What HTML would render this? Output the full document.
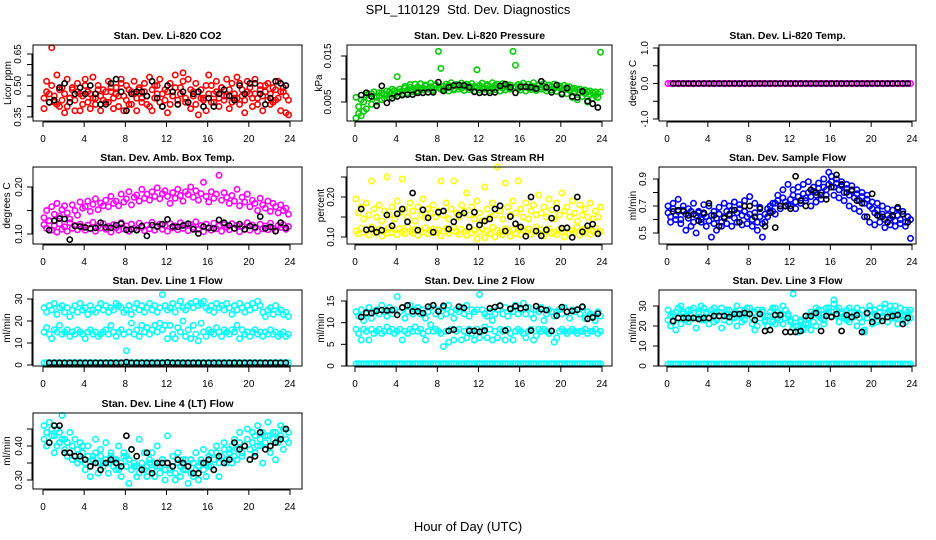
<!DOCTYPE html>
<html><head><meta charset="utf-8"><style>
html,body{margin:0;padding:0;background:#fff;}
svg{display:block;font-family:"Liberation Sans",sans-serif;}
</style></head><body>
<svg id="chart" width="936" height="540" viewBox="0 0 936 540" xmlns="http://www.w3.org/2000/svg">
<rect width="936" height="540" fill="#fff"/>
<text x="468" y="14" text-anchor="middle" font-size="13">SPL_110129&#160;&#160;Std. Dev. Diagnostics</text>
<text x="468" y="531" text-anchor="middle" font-size="13">Hour of Day (UTC)</text>
</svg>
<script>
const hours=[0.1,0.35,0.6,0.85,1.1,1.35,1.6,1.85,2.1,2.35,2.6,2.85,3.1,3.35,3.6,3.85,4.1,4.35,4.6,4.85,5.1,5.35,5.6,5.85,6.1,6.35,6.6,6.85,7.1,7.35,7.6,7.85,8.1,8.35,8.6,8.85,9.1,9.35,9.6,9.85,10.1,10.35,10.6,10.85,11.1,11.35,11.6,11.85,12.1,12.35,12.6,12.85,13.1,13.35,13.6,13.85,14.1,14.35,14.6,14.85,15.1,15.35,15.6,15.85,16.1,16.35,16.6,16.85,17.1,17.35,17.6,17.85,18.1,18.35,18.6,18.85,19.1,19.35,19.6,19.85,20.1,20.35,20.6,20.85,21.1,21.35,21.6,21.85,22.1,22.35,22.6,22.85,23.1,23.35,23.6,23.85];
const blackHours=[0.6,1.1,1.6,2.1,2.6,3.1,3.6,4.1,4.6,5.1,5.6,6.1,6.6,7.1,7.6,8.1,8.6,9.1,9.6,10.1,10.6,11.1,11.6,12.1,12.6,13.1,13.6,14.1,14.6,15.1,15.6,16.1,16.6,17.1,17.6,18.1,18.6,19.1,19.6,20.1,20.6,21.1,21.6,22.1,22.6,23.1,23.6];
const xTicks=[0,4,8,12,16,20,24];

const co2A=[0.44,0.47,0.42,0.50,0.45,0.41,0.48,0.43,0.46,0.40,0.44,0.49,0.43,0.47,0.38,0.45,0.50,0.42,0.46,0.44,0.41,0.48,0.45,0.43,0.47,0.42,0.49,0.44,0.46,0.40,0.51,0.45,0.43,0.48,0.41,0.46,0.44,0.49,0.42,0.47,0.45,0.40,0.48,0.44,0.50,0.42,0.46,0.43,0.47,0.41,0.45,0.49,0.43,0.46,0.52,0.44,0.42,0.48,0.45,0.41,0.47,0.44,0.43,0.38,0.46,0.50,0.42,0.47,0.44,0.49,0.43,0.45,0.48,0.42,0.46,0.44,0.51,0.45,0.43,0.47,0.49,0.44,0.46,0.41,0.48,0.45,0.50,0.43,0.46,0.42,0.48,0.44,0.47,0.49,0.45,0.43];
const co2B=[0.39,0.52,0.46,0.68,0.42,0.55,0.40,0.49,0.37,0.53,0.44,0.48,0.38,0.51,0.46,0.41,0.53,0.47,0.39,0.54,0.44,0.50,0.38,0.48,0.42,0.52,0.47,0.39,0.49,0.45,0.53,0.38,0.50,0.41,0.47,0.52,0.38,0.48,0.44,0.51,0.41,0.54,0.38,0.50,0.46,0.53,0.40,0.48,0.37,0.51,0.45,0.55,0.41,0.49,0.56,0.42,0.53,0.39,0.47,0.51,0.36,0.48,0.44,0.50,0.55,0.42,0.46,0.52,0.40,0.49,0.45,0.53,0.39,0.51,0.44,0.54,0.41,0.48,0.37,0.52,0.46,0.40,0.53,0.44,0.50,0.38,0.47,0.51,0.41,0.49,0.43,0.52,0.38,0.47,0.37,0.36];
const co2Black=[0.42,0.43,0.49,0.51,0.42,0.46,0.49,0.46,0.50,0.46,0.41,0.41,0.51,0.53,0.47,0.38,0.46,0.47,0.47,0.45,0.52,0.44,0.40,0.50,0.47,0.41,0.47,0.42,0.46,0.47,0.40,0.44,0.40,0.46,0.48,0.45,0.43,0.50,0.46,0.51,0.51,0.46,0.41,0.44,0.52,0.51,0.50];

const presA=[0.0060,0.0025,0.0055,0.0030,0.0065,0.0058,0.0068,0.0062,0.0060,0.0064,0.0070,0.0058,0.0066,0.0072,0.0068,0.0075,0.0070,0.0078,0.0074,0.0080,0.0076,0.0082,0.0075,0.0079,0.0083,0.0077,0.0081,0.0085,0.0079,0.0083,0.0080,0.0086,0.0081,0.0078,0.0084,0.0080,0.0086,0.0082,0.0079,0.0085,0.0083,0.0080,0.0087,0.0082,0.0085,0.0079,0.0084,0.0081,0.0086,0.0082,0.0080,0.0085,0.0083,0.0079,0.0086,0.0081,0.0084,0.0080,0.0085,0.0082,0.0087,0.0081,0.0083,0.0079,0.0086,0.0082,0.0084,0.0080,0.0085,0.0083,0.0081,0.0086,0.0082,0.0084,0.0080,0.0086,0.0083,0.0079,0.0085,0.0081,0.0080,0.0077,0.0082,0.0075,0.0079,0.0073,0.0077,0.0071,0.0074,0.0068,0.0072,0.0066,0.0070,0.0064,0.0068,0.0072];
const presB=[0.0015,0.0040,0.0020,0.0050,0.0035,0.0068,0.0045,0.0072,0.0050,0.0070,0.0055,0.0066,0.0074,0.0060,0.0078,0.0065,0.0105,0.0072,0.0068,0.0084,0.0070,0.0088,0.0072,0.0089,0.0074,0.0090,0.0076,0.0087,0.0078,0.0091,0.0075,0.0088,0.0160,0.0123,0.0077,0.0089,0.0074,0.0092,0.0076,0.0088,0.0078,0.0091,0.0075,0.0089,0.0077,0.0090,0.0074,0.0120,0.0076,0.0091,0.0078,0.0088,0.0075,0.0092,0.0077,0.0089,0.0074,0.0090,0.0076,0.0087,0.0078,0.0160,0.0130,0.0088,0.0076,0.0091,0.0074,0.0089,0.0077,0.0092,0.0075,0.0088,0.0078,0.0090,0.0074,0.0087,0.0076,0.0089,0.0073,0.0085,0.0070,0.0086,0.0068,0.0083,0.0060,0.0080,0.0055,0.0078,0.0062,0.0076,0.0050,0.0074,0.0058,0.0072,0.0060,0.0158];
const presBlack=[0.0065,0.0070,0.0062,0.0042,0.0085,0.0048,0.0058,0.0062,0.0065,0.0066,0.0066,0.0070,0.0070,0.0071,0.0071,0.0093,0.0074,0.0082,0.0086,0.0087,0.0086,0.0082,0.0072,0.0070,0.0071,0.0070,0.0071,0.0085,0.0089,0.0082,0.0070,0.0083,0.0083,0.0082,0.0079,0.0095,0.0082,0.0071,0.0087,0.0067,0.0080,0.0062,0.0060,0.0073,0.0052,0.0046,0.0038];

const tempA=[0,0,0,0,0,0,0,0,0,0,0,0,0,0,0,0,0,0,0,0,0,0,0,0,0,0,0,0,0,0,0,0,0,0,0,0,0,0,0,0,0,0,0,0,0,0,0,0,0,0,0,0,0,0,0,0,0,0,0,0,0,0,0,0,0,0,0,0,0,0,0,0,0,0,0,0,0,0,0,0,0,0,0,0,0,0,0,0,0,0,0,0,0,0,0,0];
const tempBlack=[0,0,0,0,0,0,0,0,0,0,0,0,0,0,0,0,0,0,0,0,0,0,0,0,0,0,0,0,0,0,0,0,0,0,0,0,0,0,0,0,0,0,0,0,0,0,0];

const boxA=[0.120,0.112,0.128,0.108,0.118,0.104,0.122,0.110,0.115,0.106,0.124,0.112,0.118,0.109,0.121,0.114,0.108,0.119,0.111,0.125,0.106,0.117,0.113,0.122,0.110,0.116,0.104,0.120,0.113,0.108,0.124,0.111,0.117,0.106,0.121,0.112,0.109,0.123,0.114,0.107,0.119,0.111,0.125,0.108,0.116,0.121,0.110,0.118,0.106,0.122,0.113,0.117,0.109,0.124,0.112,0.119,0.107,0.120,0.114,0.126,0.110,0.118,0.105,0.121,0.113,0.108,0.123,0.111,0.117,0.106,0.120,0.114,0.109,0.122,0.112,0.118,0.105,0.116,0.110,0.124,0.108,0.119,0.113,0.106,0.121,0.111,0.117,0.109,0.123,0.112,0.107,0.118,0.114,0.120,0.110,0.116];
const boxB=[0.135,0.150,0.128,0.158,0.142,0.165,0.138,0.152,0.160,0.145,0.132,0.162,0.150,0.140,0.168,0.155,0.158,0.170,0.148,0.163,0.175,0.152,0.166,0.160,0.172,0.158,0.180,0.165,0.170,0.160,0.185,0.168,0.175,0.190,0.162,0.178,0.183,0.170,0.195,0.176,0.185,0.172,0.190,0.180,0.198,0.175,0.186,0.192,0.180,0.165,0.188,0.176,0.195,0.182,0.170,0.190,0.184,0.200,0.178,0.192,0.172,0.186,0.210,0.180,0.168,0.190,0.176,0.185,0.225,0.172,0.188,0.178,0.165,0.182,0.170,0.195,0.160,0.178,0.168,0.185,0.158,0.172,0.165,0.150,0.176,0.162,0.155,0.170,0.148,0.165,0.158,0.145,0.162,0.150,0.155,0.142];
const boxBlack=[0.108,0.128,0.133,0.132,0.088,0.117,0.116,0.114,0.112,0.113,0.124,0.114,0.113,0.119,0.122,0.109,0.110,0.108,0.117,0.096,0.119,0.116,0.121,0.131,0.116,0.115,0.118,0.122,0.110,0.101,0.116,0.113,0.112,0.130,0.124,0.118,0.112,0.121,0.110,0.117,0.114,0.137,0.112,0.115,0.106,0.124,0.113];

const rhA=[0.115,0.108,0.122,0.112,0.118,0.105,0.125,0.110,0.113,0.120,0.102,0.116,0.109,0.124,0.111,0.118,0.106,0.121,0.113,0.108,0.126,0.114,0.110,0.119,0.104,0.117,0.112,0.123,0.108,0.115,0.120,0.111,0.118,0.103,0.114,0.121,0.109,0.116,0.125,0.112,0.107,0.119,0.113,0.104,0.122,0.110,0.117,0.095,0.112,0.120,0.098,0.115,0.108,0.124,0.100,0.117,0.111,0.106,0.121,0.113,0.102,0.118,0.109,0.123,0.105,0.116,0.112,0.120,0.107,0.114,0.125,0.110,0.118,0.103,0.115,0.121,0.109,0.112,0.106,0.119,0.113,0.100,0.122,0.108,0.116,0.111,0.124,0.105,0.118,0.112,0.120,0.107,0.115,0.123,0.110,0.114];
const rhB=[0.195,0.160,0.175,0.145,0.185,0.155,0.240,0.170,0.150,0.180,0.140,0.165,0.250,0.155,0.175,0.145,0.190,0.160,0.245,0.170,0.150,0.185,0.165,0.140,0.175,0.155,0.195,0.148,0.170,0.160,0.180,0.150,0.165,0.240,0.155,0.185,0.145,0.170,0.240,0.160,0.150,0.180,0.165,0.210,0.155,0.175,0.145,0.190,0.160,0.140,0.225,0.170,0.150,0.185,0.155,0.275,0.165,0.145,0.235,0.175,0.155,0.190,0.160,0.240,0.170,0.150,0.185,0.145,0.165,0.180,0.155,0.205,0.160,0.175,0.150,0.195,0.168,0.145,0.185,0.155,0.210,0.165,0.175,0.150,0.190,0.160,0.140,0.180,0.155,0.170,0.150,0.185,0.145,0.165,0.150,0.175];
const rhBlack=[0.170,0.118,0.120,0.112,0.117,0.155,0.128,0.158,0.170,0.138,0.210,0.117,0.168,0.148,0.112,0.162,0.165,0.120,0.138,0.155,0.160,0.125,0.162,0.130,0.140,0.145,0.170,0.178,0.115,0.151,0.133,0.125,0.102,0.200,0.115,0.103,0.118,0.147,0.172,0.122,0.123,0.099,0.200,0.113,0.128,0.132,0.108];

const sfA=[0.65,0.62,0.68,0.63,0.66,0.60,0.67,0.64,0.61,0.66,0.58,0.63,0.65,0.60,0.64,0.62,0.59,0.63,0.57,0.61,0.64,0.58,0.62,0.66,0.63,0.67,0.61,0.65,0.68,0.63,0.66,0.62,0.64,0.60,0.65,0.58,0.62,0.57,0.64,0.68,0.70,0.66,0.72,0.74,0.70,0.76,0.73,0.71,0.75,0.78,0.73,0.77,0.74,0.79,0.76,0.80,0.77,0.81,0.78,0.83,0.80,0.84,0.82,0.86,0.88,0.84,0.87,0.82,0.85,0.80,0.83,0.78,0.81,0.76,0.79,0.74,0.77,0.72,0.75,0.70,0.68,0.65,0.67,0.62,0.64,0.60,0.63,0.61,0.62,0.59,0.63,0.60,0.64,0.58,0.62,0.60];
const sfB=[0.70,0.58,0.72,0.60,0.75,0.57,0.70,0.52,0.68,0.55,0.72,0.50,0.66,0.58,0.71,0.55,0.70,0.47,0.66,0.52,0.69,0.55,0.72,0.57,0.70,0.55,0.73,0.58,0.71,0.56,0.74,0.57,0.77,0.55,0.72,0.52,0.69,0.47,0.58,0.62,0.66,0.72,0.64,0.78,0.68,0.82,0.70,0.86,0.70,0.82,0.68,0.84,0.72,0.86,0.74,0.88,0.70,0.84,0.73,0.87,0.75,0.90,0.78,0.95,0.92,0.78,0.90,0.76,0.88,0.74,0.86,0.70,0.85,0.68,0.82,0.66,0.80,0.62,0.78,0.58,0.73,0.56,0.72,0.58,0.70,0.54,0.68,0.56,0.67,0.55,0.68,0.57,0.66,0.55,0.62,0.46];
const sfBlack=[0.66,0.67,0.66,0.63,0.64,0.59,0.65,0.72,0.63,0.55,0.61,0.64,0.67,0.58,0.70,0.70,0.62,0.68,0.55,0.65,0.54,0.70,0.70,0.68,0.92,0.74,0.70,0.82,0.80,0.78,0.75,0.84,0.93,0.86,0.80,0.82,0.74,0.72,0.62,0.79,0.63,0.62,0.58,0.63,0.69,0.64,0.58];

const l1A=[26,24,27,25,28,23,26,27,24,26,22,25,27,24,28,25,26,23,27,25,24,26,28,25,27,24,26,25,28,27,26,24,25,27,23,26,28,25,27,24,26,28,25,27,24,26,32,27,25,26,28,24,27,29,26,25,27,28,26,29,27,28,29,26,25,27,24,28,26,27,25,28,26,23,27,25,28,26,24,27,25,28,26,29,27,24,22,25,26,23,27,24,25,23,24,22];
const l1B=[15,17,14,12,16,15,18,14,15,16,13,15,14,16,15,14,12,15,16,14,15,13,14,15,16,14,18,15,13,15,16,14,6.5,15,19,14,16,13,18,15,17,14,16,18,15,19,16,18,12,18,14,12,17,15,20,13,16,12,18,14,11,19,15,13,16,15,14,17,15,13,16,15,14,16,15,18,12,16,14,15,13,15,16,14,15,13,15,14,16,14,15,13,14,15,13,14];
const l1C=[1,1,1,1,1,1,1,1,1,1,1,1,1,1,1,1,1,1,1,1,1,1,1,1,1,1,1,1,1,1,1,1,1,1,1,1,1,1,1,1,1,1,1,1,1,1,1,1,1,1,1,1,1,1,1,1,1,1,1,1,1,1,1,1,1,1,1,1,1,1,1,1,1,1,1,1,1,1,1,1,1,1,1,1,1,1,1,1,1,1,1,1,1,1,1,1];
const l1Black=[1,1,1,1,1,1,1,1,1,1,1,1,1,1,1,1.3,1,1,1,1,1,1,1,1.2,1,1,1,1,1,1,1,1,1,1,1,1,1,1,1,1,1,1,1,1,1,1,1];

const l2A=[12.5,11.5,13,10.5,12,13.5,11,12.5,13,12,14,12.5,11.5,13.5,12,13,16,12.5,13.5,11,12.5,14,12,13,13.5,12,13,11,12.5,13.5,14,12,13,11.5,13.5,12,14,12.5,11,13,12.5,13.5,12,14,11.5,13,12.5,13,16.5,13,12,11.5,12.5,10.5,12,13,14,12,13.5,11.5,13,12.5,14,12,13,14.5,12,13.5,12,11,13,12.5,13.5,10.5,12,13,12.5,11.5,12.5,13,12,13.5,12.5,11,13,12.5,13,12,13.5,11,12.5,12,11.5,10.5,12.5,11.5];
const l2B=[8.5,7.5,6,8.5,8,6,8.5,7.5,8,8.5,7.5,8,9,8,8.5,7.5,8,8.5,6,8,7.5,8.5,8,9,8,8.5,7.5,6,8,9.5,8,8.5,8,7.5,4.5,8,5.5,8.5,6,8,8.5,6,8,6.5,8.5,7.5,6,8.5,6.5,8,9,6.5,8.5,6,8,6.5,8.5,8,6,8.5,7.5,6,8,8.5,8,7.5,6.5,8,8.5,6,7,8.5,8,8.5,8,7.5,8,5.5,6.5,8,8.5,8,7.5,8,8.5,8,7.5,8,8,8.5,7.5,8,8,8.5,7.5,8];
const l2C=[0.5,0.5,0.5,0.5,0.5,0.5,0.5,0.5,0.5,0.5,0.5,0.5,0.5,0.5,0.5,0.5,0.5,0.5,0.5,0.5,0.5,0.5,0.5,0.5,0.5,0.5,0.5,0.5,0.5,0.5,0.5,0.5,0.5,0.5,0.5,0.5,0.5,0.5,0.5,0.5,0.5,0.5,0.5,0.5,0.5,0.5,0.5,0.5,0.5,0.5,0.5,0.5,0.5,0.5,0.5,0.5,0.5,0.5,0.5,0.5,0.5,0.5,0.5,0.5,0.5,0.5,0.5,0.5,0.5,0.5,0.5,0.5,0.5,0.5,0.5,0.5,0.5,0.5,0.5,0.5,0.5,0.5,0.5,0.5,0.5,0.5,0.5,0.5,0.5,0.5,0.5,0.5,0.5,0.5,0.5,0.5];
const l2Black=[11.3,12.3,12.2,12.7,12.9,12.8,12.9,11.8,13.5,14,12.6,12.6,12.2,13.7,14,12.6,13.9,8.1,8.4,13.7,13.4,8.1,8.1,7.9,8.2,13.3,13.6,13.9,8.2,13.2,13.8,13.3,13.5,8.2,13.8,13.1,12.9,8.1,11.6,13.6,12.5,12.7,13,13.7,10.9,11.2,12.1];

const l3A=[28,25,22,27,24,30,26,23,28,25,29,24,27,23,29,26,24,28,22,27,25,29,23,26,28,24,27,30,25,22,28,26,29,24,27,20,26,28,23,25,27,22,29,24,26,21,28,25,23,19,24,20,22,18,21,24,27,22,29,25,28,23,26,29,27,31,25,29,26,24,28,22,27,25,29,24,28,18,26,30,25,28,22,27,24,29,26,30,28,24,26,29,25,22,27,24];
const l3B=[23,20,26,18,29,21,27,25,22,28,24,19,26,30,23,27,21,26,29,23,27,19,25,28,22,26,24,20,28,25,23,29,26,21,18,28,24,27,22,20,25,29,21,27,23,30,24,26,22,36,20,17,23,19,25,21,18,26,20,28,24,21,29,27,25,33,28,22,27,25,23,29,24,27,20,26,22,17,24,28,21,26,23,29,25,31,22,27,24,30,21,26,23,28,25,28];
const l3C=[1,1,1,1,1,1,1,1,1,1,1,1,1,1,1,1,1,1,1,1,1,1,1,1,1,1,1,1,1,1,1,1,1,1,1,1,1,1,1,1,1,1,1,1,1,1,1,1,1,1,1,1,1,1,1,1,1,1,1,1,1,1,1,1,1,1,1,1,1,1,1,1,1,1,1,1,1,1,1,1,1,1,1,1,1,1,1,1,1,1,1,1,1,1,1,1];
const l3Black=[22.5,24,24,24,24,23.5,24,24,25,25,25,24.5,26,26,26.5,26,23,26,17.5,18,25.5,25.5,17,17,17,17.5,25,25,26.5,17.5,25,24.5,26,17.5,25.5,24.5,25.5,17,26.5,22,25,22.5,24.5,25,25.5,21,24];

const l4A=[0.42,0.44,0.41,0.45,0.43,0.40,0.44,0.42,0.39,0.41,0.38,0.40,0.37,0.39,0.36,0.40,0.35,0.37,0.34,0.36,0.38,0.35,0.37,0.34,0.36,0.35,0.37,0.34,0.36,0.33,0.35,0.37,0.34,0.36,0.33,0.35,0.34,0.32,0.35,0.33,0.34,0.36,0.33,0.35,0.34,0.32,0.36,0.33,0.35,0.33,0.34,0.32,0.35,0.34,0.33,0.36,0.34,0.32,0.35,0.33,0.34,0.36,0.33,0.35,0.37,0.34,0.36,0.38,0.35,0.37,0.39,0.36,0.38,0.40,0.37,0.39,0.41,0.38,0.40,0.42,0.39,0.41,0.43,0.40,0.42,0.44,0.41,0.43,0.40,0.42,0.44,0.41,0.43,0.45,0.42,0.44];
const l4B=[0.46,0.40,0.47,0.43,0.38,0.45,0.41,0.49,0.42,0.37,0.44,0.36,0.42,0.35,0.41,0.38,0.33,0.40,0.31,0.37,0.42,0.32,0.39,0.35,0.41,0.32,0.38,0.36,0.33,0.40,0.31,0.38,0.37,0.29,0.39,0.34,0.31,0.42,0.33,0.38,0.31,0.35,0.38,0.31,0.40,0.34,0.36,0.30,0.43,0.32,0.37,0.30,0.38,0.31,0.36,0.33,0.29,0.36,0.31,0.38,0.30,0.35,0.39,0.31,0.34,0.38,0.33,0.40,0.31,0.37,0.41,0.35,0.39,0.35,0.42,0.36,0.44,0.37,0.40,0.45,0.36,0.44,0.38,0.46,0.40,0.35,0.43,0.47,0.38,0.44,0.36,0.42,0.46,0.39,0.45,0.41];
const l4Black=[0.41,0.46,0.46,0.38,0.38,0.37,0.37,0.36,0.34,0.35,0.33,0.35,0.36,0.35,0.34,0.43,0.39,0.37,0.33,0.38,0.32,0.35,0.35,0.35,0.34,0.36,0.35,0.34,0.32,0.32,0.35,0.36,0.33,0.37,0.35,0.36,0.41,0.39,0.40,0.36,0.37,0.44,0.39,0.40,0.41,0.42,0.45];

const panels=[
 {name:"co2",title:"Stan. Dev. Li-820 CO2",ylab:"Licor ppm",box:[33,45,302,121],x0:43,x24:290,v:[0.35,0.65],p:[117,54],yt:[0.35,0.40,0.45,0.50,0.55,0.60,0.65],yl:["0.35","0.50","0.65"],ylv:[0.35,0.50,0.65],tOff:16,aOff:26,col:"#ff0000",series:[co2A,co2B],black:co2Black},
 {name:"pressure",title:"Stan. Dev. Li-820 Pressure",ylab:"kPa",box:[347,45,612,121],x0:355,x24:602,v:[0.005,0.015],p:[102,56],yt:[0.005,0.010,0.015],yl:["0.005","0.015"],ylv:[0.005,0.015],tOff:20,aOff:29,col:"#00cc00",series:[presA,presB],black:presBlack},
 {name:"li820-temp",title:"Stan. Dev. Li-820 Temp.",ylab:"degrees C",box:[659,45,916,121],x0:667,x24:912,v:[-1,1],p:[119,48],yt:[-1,-0.5,0,0.5,1],yl:["-1.0","0.0","1.0"],ylv:[-1,0,1],tOff:15,aOff:27,col:"#ff00ff",series:[tempA],black:tempBlack},
 {name:"amb-box-temp",title:"Stan. Dev. Amb. Box Temp.",ylab:"degrees C",box:[33,167,302,244],x0:43,x24:290,v:[0.10,0.20],p:[234,187],yt:[0.10,0.15,0.20],yl:["0.10","0.20"],ylv:[0.10,0.20],tOff:15,aOff:27,col:"#ff00ff",series:[boxA,boxB],black:boxBlack},
 {name:"gas-rh",title:"Stan. Dev. Gas Stream RH",ylab:"percent",box:[347,167,612,244],x0:355,x24:602,v:[0.10,0.20],p:[237,197],yt:[0.10,0.15,0.20,0.25],yl:["0.10","0.20"],ylv:[0.10,0.20],tOff:17,aOff:27,col:"#ffff00",series:[rhA,rhB],black:rhBlack},
 {name:"sample-flow",title:"Stan. Dev. Sample Flow",ylab:"ml/min",box:[659,167,916,244],x0:667,x24:912,v:[0.5,0.9],p:[233,179],yt:[0.5,0.6,0.7,0.8,0.9],yl:["0.5","0.7","0.9"],ylv:[0.5,0.7,0.9],tOff:17,aOff:27,col:"#0000ff",series:[sfA,sfB],black:sfBlack},
 {name:"line1-flow",title:"Stan. Dev. Line 1 Flow",ylab:"ml/min",box:[33,290,302,366],x0:43,x24:290,v:[0,30],p:[365,299],yt:[0,10,20,30],yl:["0","10","20","30"],ylv:[0,10,20,30],tOff:15,aOff:27,col:"#00ffff",series:[l1A,l1B,l1C],black:l1Black},
 {name:"line2-flow",title:"Stan. Dev. Line 2 Flow",ylab:"ml/min",box:[347,290,612,366],x0:355,x24:602,v:[0,15],p:[366,301],yt:[0,5,10,15],yl:["0","5","10","15"],ylv:[0,5,10,15],tOff:17,aOff:27,col:"#00ffff",series:[l2A,l2B,l2C],black:l2Black},
 {name:"line3-flow",title:"Stan. Dev. Line 3 Flow",ylab:"ml/min",box:[659,290,916,366],x0:667,x24:912,v:[0,30],p:[366,306],yt:[0,10,20,30],yl:["0","10","20","30"],ylv:[0,10,20,30],tOff:17,aOff:27,col:"#00ffff",series:[l3A,l3B,l3C],black:l3Black},
 {name:"line4-flow",title:"Stan. Dev. Line 4 (LT) Flow",ylab:"ml/min",box:[33,413,302,489],x0:43,x24:290,v:[0.30,0.40],p:[480,446],yt:[0.30,0.35,0.40,0.45],yl:["0.30","0.40"],ylv:[0.30,0.40],tOff:15,aOff:27,col:"#00ffff",series:[l4A,l4B],black:l4Black}
];

const NS="http://www.w3.org/2000/svg";
const svg=document.getElementById('chart');
function mk(tag,attrs,parent){const e=document.createElementNS(NS,tag);for(const k in attrs)e.setAttribute(k,attrs[k]);parent.appendChild(e);return e;}

panels.forEach(P=>{
  const g=mk('g',{},svg);
  
  
  const [bx0,by0,bx1,by1]=P.box;
  const xs=h=>P.x0+(P.x24-P.x0)*h/24;
  const ys=v=>P.p[0]+(P.p[1]-P.p[0])*(v-P.v[0])/(P.v[1]-P.v[0]);
  const cx=(bx0+bx1)/2;
  const t=mk('text',{x:cx,y:by0-6,'text-anchor':'middle','font-size':'10.5','font-weight':'bold'},g);
  t.textContent=P.title;
  
  
  const pts=mk('g',{fill:'none','stroke-width':'1.6'},g);
  
  
  P.series.forEach(arr=>{
    arr.forEach((v,i)=>{
      const c=mk('circle',{cx:xs(hours[i]).toFixed(1),cy:ys(v).toFixed(1),r:'2.7',stroke:P.col},pts);
      
      
    });
  });
  P.black.forEach((v,i)=>{
    const c=mk('circle',{cx:xs(blackHours[i]).toFixed(1),cy:ys(v).toFixed(1),r:'2.6',stroke:'#000'},pts);
    
    
  });
  const box=mk('rect',{x:bx0,y:by0,width:bx1-bx0,height:by1-by0,fill:'none',stroke:'#000','stroke-width':'1'},g);
  
  
  const xa=mk('g',{},g);
  
  
  mk('line',{x1:xs(0),x2:xs(24),y1:by1+1,y2:by1+1,stroke:'#000'},xa);
  xTicks.forEach(h=>{
    mk('line',{x1:xs(h),x2:xs(h),y1:by1,y2:by1+6,stroke:'#000'},xa);
    const l=mk('text',{x:xs(h),y:by1+21,'text-anchor':'middle','font-size':'10'},xa);
    l.textContent=h;
    
    
  });
  const ya=mk('g',{},g);
  
  
  mk('line',{x1:bx0-1,x2:bx0-1,y1:ys(P.yt[0]),y2:ys(P.yt[P.yt.length-1]),stroke:'#000'},ya);
  P.yt.forEach(v=>{mk('line',{x1:bx0-6,x2:bx0,y1:ys(v),y2:ys(v),stroke:'#000'},ya);});
  P.yl.forEach((lab,i)=>{
    const yy=ys(P.ylv[i]);const xx=bx0-P.tOff+4;
    const l=mk('text',{x:xx,y:yy,'text-anchor':'middle','font-size':'10',transform:`rotate(-90 ${xx} ${yy})`},ya);
    l.textContent=lab;
    
    
  });
  const ay=(by0+by1)/2, ax=bx0-P.aOff+4;
  const at=mk('text',{x:ax,y:ay,'text-anchor':'middle','font-size':'10',transform:`rotate(-90 ${ax} ${ay})`},g);
  at.textContent=P.ylab;
  
  
});
</script>
</body></html>
